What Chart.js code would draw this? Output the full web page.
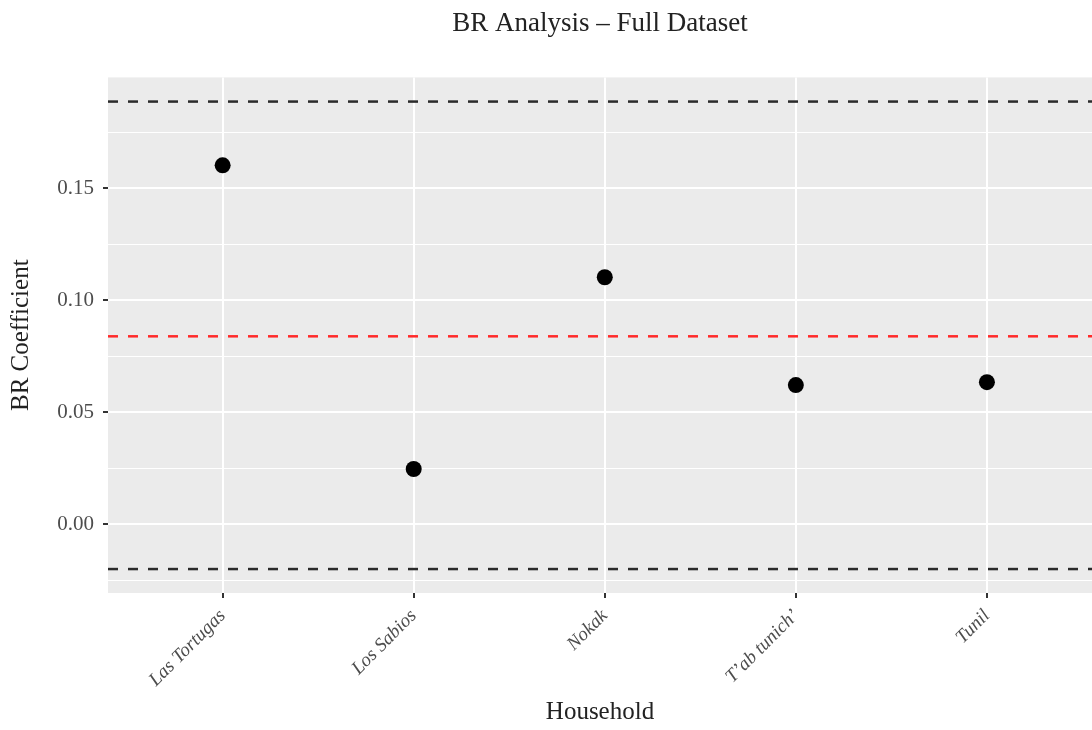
<!DOCTYPE html>
<html>
<head>
<meta charset="utf-8">
<script src="https://cdn.jsdelivr.net/npm/chart.js@4.4.1/dist/chart.umd.min.js"></script>
<style>
  html, body { margin: 0; padding: 0; overflow: hidden; background: #fff; }
</style>
</head>
<body>
<canvas id="myChart" width="1100" height="730"></canvas>
<script>
// data
const households = ["Las Tortugas", "Los Sabios", "Nokak", "T\u2019ab tunich\u2019", "Tunil"];
const brValues = [0.1603, 0.0246, 0.1103, 0.0621, 0.0634];
const upperLimit = 0.1888;
const meanValue = 0.0839;
const lowerLimit = -0.0201;
const yTicks = [-0.025, 0, 0.025, 0.05, 0.075, 0.1, 0.125, 0.15, 0.175];

const serif = "'Liberation Serif', 'DejaVu Serif', serif";
const xMin = 0.4, xMax = 5.55;

const isMajor = (v) => Math.abs(Math.round(v / 0.05) * 0.05 - v) < 1e-9;

// grey ggplot panel
const panelBg = {
  id: "panelBg",
  beforeDraw(chart) {
    const { ctx, chartArea: a } = chart;
    ctx.save();
    ctx.fillStyle = "#EBEBEB";
    ctx.fillRect(a.left, a.top, a.right - a.left, a.bottom - a.top);
    ctx.restore();
  },
};

function hLine(y, color) {
  return {
    type: "line",
    data: [{ x: xMin, y: y }, { x: xMax, y: y }],
    borderColor: color,
    borderWidth: 2.5,
    borderDash: [10, 10],
    pointRadius: 0,
    fill: false,
  };
}

const ctx = document.getElementById("myChart").getContext("2d");
const myChart = new Chart(ctx, {
  type: "scatter",
  data: {
    datasets: [
      {
        label: "BR Coefficient",
        data: brValues.map((v, i) => ({ x: i + 1, y: v })),
        backgroundColor: "#000",
        borderWidth: 0,
        pointRadius: 8,
      },
      hLine(upperLimit, "#2b2b2b"),
      hLine(meanValue, "#ff2a2a"),
      hLine(lowerLimit, "#2b2b2b"),
    ],
  },
  options: {
    responsive: false,
    animation: false,
    layout: { padding: { left: 0, right: 0, top: 0, bottom: 0 } },
    plugins: {
      legend: { display: false },
      tooltip: { enabled: false },
      title: {
        display: true,
        text: "BR Analysis \u2013 Full Dataset",
        fullSize: false,
        color: "#222",
        font: { family: serif, size: 27, weight: "normal" },
        padding: { top: 8, bottom: 37 },
      },
    },
    scales: {
      x: {
        type: "linear",
        min: xMin,
        max: xMax,
        afterBuildTicks: (s) => {
          s.ticks = households.map((h, i) => ({ value: i + 1 }));
        },
        afterFit: (s) => {
          s.height = 137;
        },
        ticks: {
          autoSkip: false,
          minRotation: 45,
          maxRotation: 45,
          padding: 7,
          color: "#4d4d4d",
          font: { family: serif, size: 19, style: "italic" },
          callback: (v) => households[Math.round(v) - 1],
        },
        grid: {
          color: "#ffffff",
          lineWidth: 2,
          tickColor: "#333",
          tickLength: 5,
        },
        border: { display: false },
        title: {
          display: true,
          text: "Household",
          color: "#222",
          font: { family: serif, size: 25 },
          padding: { top: 0, bottom: 3 },
        },
      },
      y: {
        type: "linear",
        min: -0.0308,
        max: 0.1996,
        afterBuildTicks: (s) => {
          s.ticks = yTicks.map((v) => ({ value: v }));
        },
        afterFit: (s) => {
          s.width = 108;
        },
        ticks: {
          padding: 9,
          color: "#4d4d4d",
          font: { family: serif, size: 21 },
          callback: (v) => (isMajor(v) ? v.toFixed(2) : ""),
        },
        grid: {
          color: "#ffffff",
          lineWidth: (c) => (c.tick && isMajor(c.tick.value) ? 2 : 1),
          tickColor: (c) => (c.tick && isMajor(c.tick.value) ? "#333" : "rgba(0,0,0,0)"),
          tickLength: 5,
        },
        border: { display: false },
        title: {
          display: true,
          text: "BR Coefficient",
          color: "#222",
          font: { family: serif, size: 25 },
          padding: { top: 6, bottom: 0 },
        },
      },
    },
  },
  plugins: [panelBg],
});
</script>
</body>
</html>
